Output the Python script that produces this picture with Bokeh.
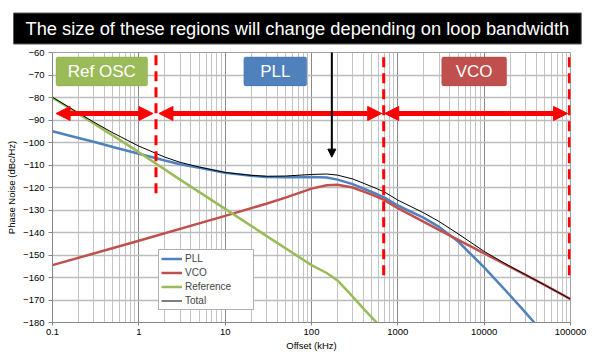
from bokeh.plotting import figure
from bokeh.models import (FixedTicker, Label, BoxAnnotation, Arrow, NormalHead,
                          Legend, LegendItem, Range1d, Title)
from bokeh.embed import file_html
from bokeh.resources import INLINE

# ---------------- data ----------------
pll_freq = [0.1, 0.2, 0.3, 0.5, 1, 2, 3, 5, 10, 20, 30, 50, 100, 150, 200, 300,
            500, 700, 1000, 2000, 3000, 5000, 10000, 20000, 30000, 40000]
pll_noise = [-95, -98, -99.7, -102, -105, -108, -109.7, -111.2, -113.5, -114.8,
             -115.3, -115.4, -115.3, -115.6, -116.5, -118.5, -122, -124.5, -128,
             -133.5, -137.5, -144, -155.5, -168, -175.5, -181]

vco_freq = [0.1, 1, 10, 30, 50, 100, 150, 200, 300, 500, 700, 1000, 2000, 3000,
            5000, 10000, 20000, 50000, 100000]
vco_noise = [-154.5, -143.7, -132.6, -127.2, -124.5, -120.5, -119, -118.8, -120,
             -123.2, -125.6, -129.2, -135.3, -138.8, -143.3, -149.3, -155.3,
             -163.3, -169.6]

ref_freq = [0.1, 0.3, 1, 3, 10, 30, 100, 150, 200, 300, 400, 600]
ref_noise = [-80, -91.5, -104.3, -116.5, -129.5, -141.5, -154.5, -158, -161.3,
             -168.5, -173.8, -181]

tot_freq = [0.1, 0.2, 0.3, 0.5, 1, 2, 3, 5, 10, 20, 30, 50, 100, 150, 200, 300,
            500, 700, 1000, 2000, 3000, 5000, 10000, 20000, 30000, 50000, 100000]
tot_noise = [-79.9, -86.9, -90.9, -95.7, -101.6, -106.5, -108.8, -110.9, -113.3,
             -114.6, -115.0, -114.9, -114.2, -114.0, -114.5, -116.2, -119.6, -122.0,
             -125.6, -131.3, -135.1, -140.6, -148.4, -155.1, -158.7, -163.3, -169.6]

series_names = ["PLL", "VCO", "Reference", "Total"]
series_colors = ["#4F81BD", "#C0504D", "#9BBB59", "#000000"]

x_ticks = [0.1, 1, 10, 100, 1000, 10000, 100000]
x_tick_labels = ["0.1", "1", "10", "100", "1000", "10000", "100000"]
y_ticks = [-180, -170, -160, -150, -140, -130, -120, -110, -100, -90, -80, -70, -60]

region_names = ["Ref OSC", "PLL", "VCO"]
banner_text = "The size of these regions will change depending on loop bandwidth"
FONT = "Liberation Sans"

# ---------------- figure ----------------
p = figure(width=592, height=357, x_axis_type="log",
           x_range=Range1d(0.1, 100000), y_range=Range1d(-180, -60),
           output_backend="svg", toolbar_location=None,
           min_border_left=52, min_border_right=22, min_border_top=52,
           min_border_bottom=35)
p.background_fill_color = "white"
p.border_fill_color = "white"
p.outline_line_color = "#a0a0a0"

minor = [m * 10.0 ** e for e in range(-1, 5) for m in range(2, 10)]
p.xaxis.ticker = FixedTicker(ticks=x_ticks, minor_ticks=minor)
p.xaxis.major_label_overrides = {t: s for t, s in zip(x_ticks, x_tick_labels)}
p.yaxis.ticker = FixedTicker(ticks=y_ticks)

for ax in (p.xaxis[0], p.yaxis[0]):
    ax.axis_line_color = "#868686"
    ax.major_tick_line_color = "#868686"
    ax.major_tick_in = 0
    ax.minor_tick_line_color = None
    ax.major_label_text_font = FONT
    ax.major_label_text_font_size = "9.5px"
    ax.major_label_text_color = "#000000"
    ax.axis_label_text_font = FONT
    ax.axis_label_text_font_size = "9.5px"
    ax.axis_label_text_font_style = "normal"
    ax.axis_label_text_color = "#000000"

p.xaxis.major_tick_out = 3
p.xaxis.major_label_standoff = 2
p.xaxis.axis_label = "Offset (kHz)"
p.xaxis.axis_label_standoff = 2
p.yaxis.major_tick_out = 4
p.yaxis.major_label_standoff = 4
p.yaxis.axis_label = "Phase Noise (dBc/Hz)"
p.yaxis.axis_label_standoff = 3

p.xgrid.grid_line_color = "#8a8a8a"
p.xgrid.grid_line_width = 1
p.xgrid.minor_grid_line_color = "#c4c4c4"
p.xgrid.minor_grid_line_width = 1
p.ygrid.grid_line_color = "#bcbcbc"
p.ygrid.grid_line_width = 1.5

# ---------------- banner (title panel above the frame) ----------------
p.add_layout(Title(text=banner_text, align="left", offset=-39, standoff=17,
                   text_color="white", text_font=FONT, text_font_size="18.3px",
                   text_font_style="normal",
                   background_fill_color="black", background_fill_alpha=1,
                   border_line_color="#5a5a5a", border_line_width=1,
                   padding=(12, 5)), "above")

# ---------------- series ----------------
r_pll = p.line(pll_freq, pll_noise, line_color=series_colors[0], line_width=2.5)
r_vco = p.line(vco_freq, vco_noise, line_color=series_colors[1], line_width=2.5)
r_ref = p.line(ref_freq, ref_noise, line_color=series_colors[2], line_width=2.5)
r_tot = p.line(tot_freq, tot_noise, line_color=series_colors[3], line_width=1)

legend = Legend(items=[LegendItem(label=n, renderers=[r]) for n, r in
                       zip(series_names, [r_pll, r_vco, r_ref, r_tot])],
                location=(106, 12), margin=0, padding=2, spacing=1,
                glyph_width=21, glyph_height=13, label_height=13,
                label_standoff=3, label_width=66,
                label_text_font=FONT, label_text_font_size="10px",
                border_line_color="#606060", border_line_width=1.5,
                background_fill_color="white", background_fill_alpha=1)
p.add_layout(legend, "center")

# ---------------- region boxes ----------------
box_specs = [  # left, right (kHz), fill, border
    (0.1098, 1.264, "#9BBB59", "#7c9a3e"),
    (16.46, 88.2, "#4F81BD", "#3a659a"),
    (3221, 18210, "#C0504D", "#9c3a37"),
]
for name, (l, r, fc, lc) in zip(region_names, box_specs):
    p.add_layout(BoxAnnotation(left=l, right=r, top=-61.96, bottom=-74.84,
                               fill_color=fc, fill_alpha=1, line_color=lc,
                               line_width=1, border_radius=2))
    p.add_layout(Label(x=(l * r) ** 0.5, y=-68.4, text=name, text_color="white",
                       text_font=FONT, text_font_size="17px",
                       text_align="center", text_baseline="middle"))

# ---------------- red dashed boundaries ----------------
for xb, y0, y1 in [(1.58, -61.2, -124.8), (686, -62.1, -161.2), (97000, -62.1, -161.2)]:
    p.add_layout(Arrow(x_start=xb, y_start=y0, x_end=xb, y_end=y1, start=None, end=None,
                       line_color="#FF0000", line_width=3, line_dash="10 6"))

# ---------------- red double arrows ----------------
for xa, xb in [(0.11, 1.455), (1.71, 650), (705, 92500)]:
    p.add_layout(Arrow(x_start=xa, y_start=-87.1, x_end=xb, y_end=-87.1,
                       line_color="#FF0000", line_width=5,
                       start=NormalHead(size=14, fill_color="#FF0000", line_color="#FF0000"),
                       end=NormalHead(size=14, fill_color="#FF0000", line_color="#FF0000")))

# ---------------- pointer from the banner ----------------
p.add_layout(Arrow(x_start=172, y_start=-54.5, x_end=172, y_end=-106.5,
                   line_color="black", line_width=2, start=None,
                   end=NormalHead(size=8, fill_color="black", line_color="black")))

open("out.html", "w").write(file_html(p, INLINE))
